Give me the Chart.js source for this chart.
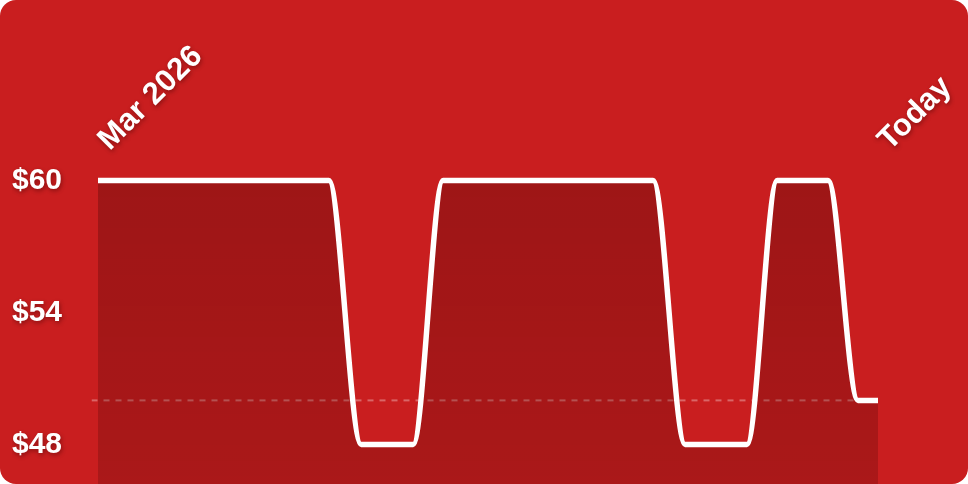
<!DOCTYPE html>
<html><head><meta charset="utf-8">
<script src="https://cdn.jsdelivr.net/npm/chart.js@4.4.1/dist/chart.umd.min.js"></script>
<style>
html,body{margin:0;padding:0;background:#fff;}
#card{position:absolute;left:0;top:0;width:968px;height:484px;border-radius:16px;overflow:hidden;background:#c91e1f;}
canvas{display:block}
</style></head><body>
<div id="card"><canvas id="c"></canvas></div>
<script>
// Day offsets from the first observation (Mar 2026) to today
const days = [0, 8.88, 10.12, 12.12, 13.27, 21.35, 22.58, 24.96, 26.12, 28.08, 29.23, 30];
const prices = [60, 60, 48, 48, 60, 60, 48, 48, 60, 60, 50, 50];
const yTicks = [48, 54, 60];
const xTickLabels = ['Mar 2026', 'Today'];
const refPrice = 50;
const xMin = -0.25, xMax = 30.25;
const yMin = 46.2, yMax = 61;

const FAMILY = '"Liberation Sans", Arial, Helvetica, sans-serif';

const points = days.map((d, i) => ({x: d, y: prices[i]}));
const refLine = [{x: xMin, y: refPrice}, {x: days[days.length - 1], y: refPrice}];

const textShadow = {
  id: 'textShadow',
  beforeDraw(chart) {
    const ctx = chart.ctx;
    ctx.save();
    ctx.shadowColor = 'rgba(60,0,0,0.45)';
    ctx.shadowBlur = 4;
    ctx.shadowOffsetX = 1;
    ctx.shadowOffsetY = 2;
  },
  beforeDatasetsDraw(chart) {
    chart.ctx.restore();
  }
};

new Chart(document.getElementById('c'), {
  type: 'line',
  data: {
    datasets: [
      {
        data: points,
        order: 1,
        borderColor: '#ffffff',
        borderWidth: 5.5,
        pointRadius: 0,
        cubicInterpolationMode: 'monotone',
        fill: 'start',
        backgroundColor(ctx) {
          const ca = ctx.chart.chartArea;
          if (!ca) return 'rgba(0,0,0,0.2)';
          const g = ctx.chart.ctx.createLinearGradient(0, ca.top, 0, ca.bottom);
          g.addColorStop(0, 'rgba(40,0,0,0.27)');
          g.addColorStop(1, 'rgba(40,0,0,0.19)');
          return g;
        }
      },
      {
        data: refLine,
        order: 2,
        borderColor: 'rgba(255,255,255,0.32)',
        borderWidth: 2,
        borderDash: [6, 6],
        pointRadius: 0,
        fill: false
      }
    ]
  },
  options: {
    responsive: true,
    maintainAspectRatio: false,
    animation: false,
    layout: {padding: {left: 12, right: 83.5, top: 0, bottom: 0}},
    plugins: {legend: {display: false}, tooltip: {enabled: false}},
    scales: {
      x: {
        type: 'linear',
        position: 'top',
        min: xMin,
        max: xMax,
        grid: {display: false, drawTicks: false},
        border: {display: false},
        afterBuildTicks(scale) {
          scale.ticks = [{value: days[0]}, {value: days[days.length - 1]}];
        },
        afterFit(scale) {
          scale.height = 158.4;
          scale.paddingLeft = 0;
          scale.paddingRight = 0;
        },
        ticks: {
          autoSkip: false,
          minRotation: 45,
          maxRotation: 45,
          padding: 0,
          labelOffset: 32,
          color: '#ffffff',
          font: {family: FAMILY, weight: 'bold', size: 31},
          callback: (v, i) => xTickLabels[i]
        }
      },
      y: {
        min: yMin,
        max: yMax,
        grid: {display: false, drawTicks: false},
        border: {display: false},
        afterBuildTicks(scale) {
          scale.ticks = yTicks.map(v => ({value: v}));
        },
        afterFit(scale) {
          scale.width = 79.5;
          scale.paddingTop = 0;
          scale.paddingBottom = 0;
        },
        ticks: {
          crossAlign: 'far',
          padding: 0,
          color: '#ffffff',
          font: {family: FAMILY, weight: 'bold', size: 30},
          callback: v => '$' + v
        }
      }
    }
  },
  plugins: [textShadow]
});
</script>
</body></html>
